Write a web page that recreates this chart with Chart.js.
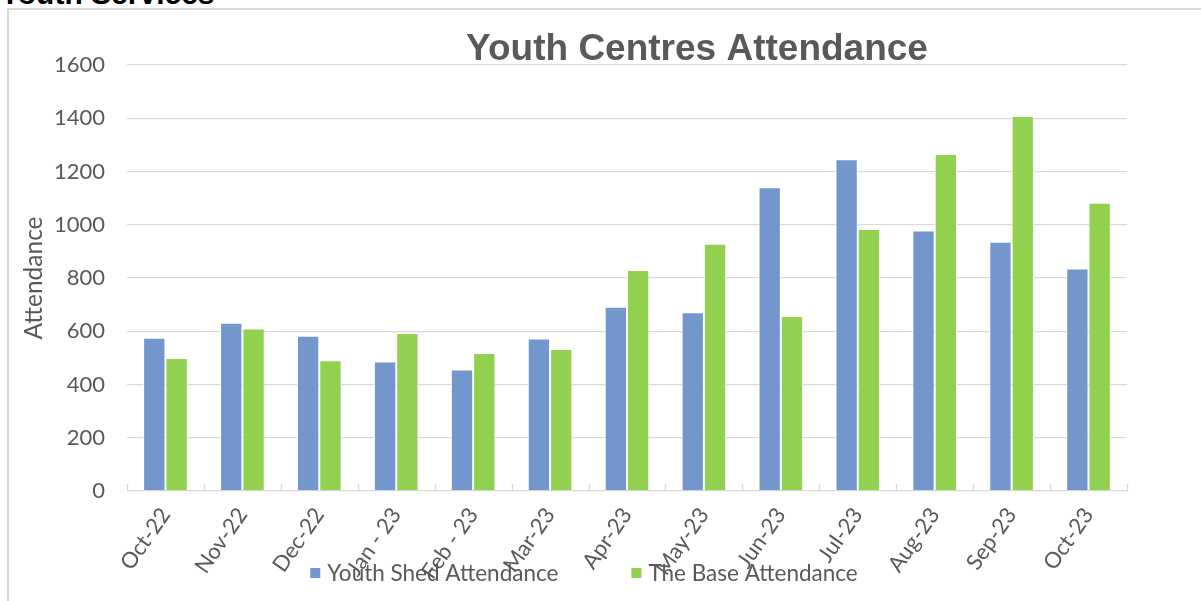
<!DOCTYPE html>
<html>
<head>
<meta charset="utf-8">
<script src="https://cdn.jsdelivr.net/npm/chart.js@4.4.0/dist/chart.umd.min.js"></script>
<style>
    html, body { margin: 0; padding: 0; width: 1201px; height: 601px; overflow: hidden; background: #fff; }
    #section { position: absolute; left: 0; top: -21px; font: bold 30px "Liberation Sans", Arial, sans-serif; line-height: 30px; color: #000; white-space: nowrap; }
    #frame { position: absolute; left: 7px; top: 8px; width: 2000px; height: 1000px; border-left: 2px solid #d9d9d9; border-top: 2px solid #d9d9d9; }
    #wrap { position: absolute; left: 0; top: 0; width: 1201px; height: 601px; }
</style>
</head>
<body>
<div id="section">Youth Services</div>
<div id="frame"></div>
<div id="wrap"><canvas id="chart"></canvas></div>
<script>
'use strict';

// 月ごとの出席者数
const months = ['Oct-22', 'Nov-22', 'Dec-22', 'Jan - 23', 'Feb - 23', 'Mar-23', 'Apr-23',
                'May-23', 'Jun-23', 'Jul-23', 'Aug-23', 'Sep-23', 'Oct-23'];
const youthShed = [576, 632, 583, 486, 456, 573, 692, 671, 1141, 1246, 978, 936, 836];
const theBase   = [500, 610, 491, 593, 518, 533, 830, 929, 657, 984, 1266, 1408, 1083];
const seriesNames = ['Youth Shed Attendance', 'The Base Attendance'];
const yMin = 0, yMax = 1600, yStep = 200;

const GREY = '#595959';
const GRID = '#d9d9d9';
const FONT = 'Lato, "Open Sans", sans-serif';

// タイトル（チャートエリア基準で中央寄せ）
const titlePlugin = {
    id: 'centreTitle',
    afterDraw(chart, args, opts) {
        const ctx = chart.ctx;
        ctx.save();
        ctx.font = 'bold 37px "Liberation Sans", Arial, sans-serif';
        ctx.fillStyle = GREY;
        ctx.textAlign = 'center';
        ctx.textBaseline = 'alphabetic';
        ctx.fillText(opts.text, opts.x, opts.y);
        ctx.restore();
    }
};

// X軸の目盛り線（内向き）
const innerTicks = {
    id: 'innerTicks',
    afterDraw(chart) {
        const sx = chart.scales.x;
        const n = chart.data.labels.length;
        const ctx = chart.ctx;
        ctx.save();
        ctx.strokeStyle = GRID;
        ctx.lineWidth = 1.5;
        for (let i = 0; i <= n; i++) {
            const x = Math.round(sx.left + i * sx.width / n) + 0.5;
            ctx.beginPath();
            ctx.moveTo(x, sx.top);
            ctx.lineTo(x, sx.top - 7);
            ctx.stroke();
        }
        ctx.restore();
    }
};

// 凡例（軸ラベルに重なる位置に描く）
const bottomLegend = {
    id: 'bottomLegend',
    afterDraw(chart, args, opts) {
        const ctx = chart.ctx;
        ctx.save();
        ctx.font = opts.size + 'px ' + FONT;
        ctx.textBaseline = 'middle';
        const box = 10, gap = 7, itemGap = 73;
        const items = chart.data.datasets.map(ds => ({
            label: ds.label, color: ds.backgroundColor, w: ctx.measureText(ds.label).width
        }));
        let total = 0;
        items.forEach((it, i) => { total += box + gap + it.w + (i ? itemGap : 0); });
        let x = opts.centre - total / 2;
        items.forEach(it => {
            ctx.fillStyle = it.color;
            ctx.fillRect(x, opts.y - box / 2, box, box);
            ctx.fillStyle = GREY;
            ctx.fillText(it.label, x + box + gap, opts.y + 1);
            x += box + gap + it.w + itemGap;
        });
        ctx.restore();
    }
};

new Chart(document.getElementById('chart'), {
    type: 'bar',
    data: {
        labels: months,
        datasets: [
            {
                label: seriesNames[0],
                data: youthShed,
                backgroundColor: '#7396cc',
                borderColor: '#ffffff',
                borderWidth: 1
            },
            {
                label: seriesNames[1],
                data: theBase,
                backgroundColor: '#92d050',
                borderColor: '#ffffff',
                borderWidth: 1
            }
        ]
    },
    options: {
        responsive: true,
        maintainAspectRatio: false,
        animation: false,
        categoryPercentage: 0.58,
        barPercentage: 1,
        layout: { padding: { left: 0, right: 74, top: 65, bottom: 0 } },
        scales: {
            x: {
                grid: { display: false },
                border: { display: false },
                ticks: {
                    color: GREY,
                    font: { family: FONT, size: 22 },
                    minRotation: 55,
                    maxRotation: 55,
                    padding: 4,
                    autoSkip: false
                },
                afterFit(scale) { scale.height = 110; }
            },
            y: {
                min: yMin,
                max: yMax,
                border: { display: false },
                grid: { color: GRID, lineWidth: 1.3, drawTicks: false },
                ticks: {
                    stepSize: yStep,
                    color: GREY,
                    font: { family: FONT, size: 22 },
                    padding: 22,
                    callback: v => String(v)
                },
                title: {
                    display: true,
                    text: 'Attendance',
                    color: GREY,
                    font: { family: FONT, size: 24.5 },
                    padding: { top: 19, bottom: 0 }
                },
                afterFit(scale) { scale.width = 127; }
            }
        },
        plugins: {
            legend: { display: false },
            tooltip: { enabled: false },
            centreTitle: { text: 'Youth Centres Attendance', x: 697, y: 60 },
            bottomLegend: { centre: 584, y: 573, size: 22.5 }
        }
    },
    plugins: [titlePlugin, innerTicks, bottomLegend]
});
</script>
</body>
</html>
